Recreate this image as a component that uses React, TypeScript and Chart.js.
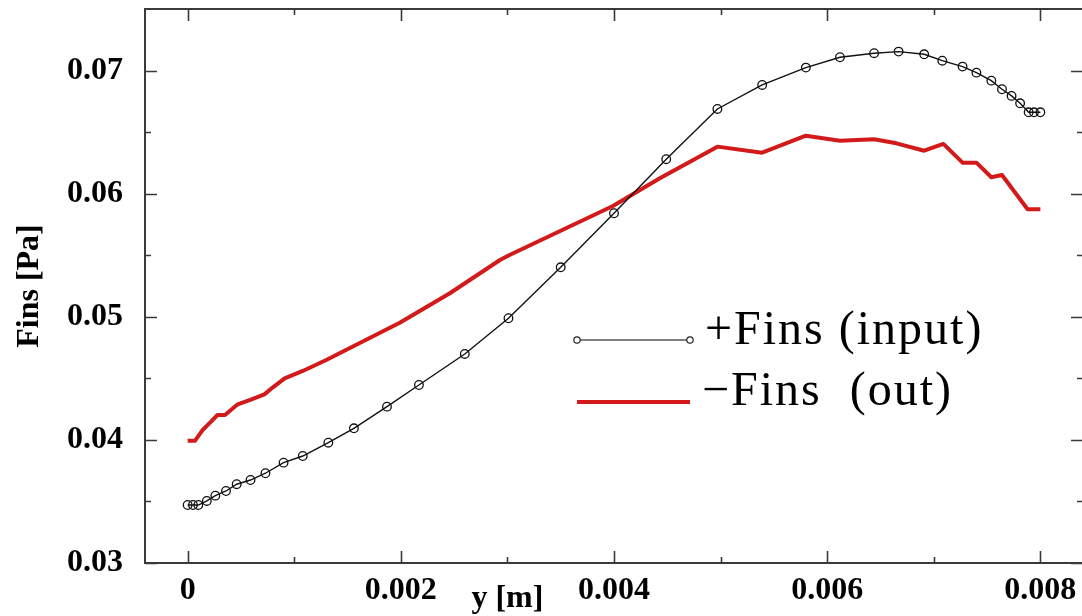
import React, { useEffect, useRef } from 'react';
import { Chart, registerables } from 'chart.js';

Chart.register(...registerables);

// ---- data ----
const inputX = [0, 0.00005, 0.0001, 0.00018, 0.00026, 0.00036, 0.00046, 0.00059, 0.00073, 0.0009, 0.00108, 0.00132, 0.00156, 0.00187, 0.00217, 0.0026, 0.00301, 0.0035, 0.004, 0.00449, 0.00497, 0.00539, 0.0058, 0.00612, 0.00644, 0.00667, 0.00691, 0.00708, 0.00727, 0.0074, 0.00754, 0.00764, 0.00773, 0.00781, 0.00789, 0.00794, 0.008];
const inputY = [0.03471, 0.03471, 0.03471, 0.03504, 0.03547, 0.03585, 0.0364, 0.03674, 0.03729, 0.03815, 0.03869, 0.03977, 0.04094, 0.0427, 0.04446, 0.04698, 0.04988, 0.05402, 0.05841, 0.0628, 0.06688, 0.06883, 0.07024, 0.07108, 0.07141, 0.07154, 0.07132, 0.0708, 0.07032, 0.06983, 0.06918, 0.06848, 0.06794, 0.06734, 0.06661, 0.06661, 0.06661];

const outX = [0, 0.00007, 0.00014, 0.00024, 0.00028, 0.00035, 0.00047, 0.0006, 0.00072, 0.0008, 0.00091, 0.00108, 0.0013, 0.00199, 0.00246, 0.00293, 0.00302, 0.00399, 0.00443, 0.00497, 0.00539, 0.0058, 0.00612, 0.00644, 0.00665, 0.00691, 0.00709, 0.00727, 0.0074, 0.00754, 0.00764, 0.00788, 0.008];
const outY = [0.03994, 0.03994, 0.0408, 0.04167, 0.04202, 0.04202, 0.04289, 0.0433, 0.0437, 0.04427, 0.045, 0.0456, 0.04649, 0.04952, 0.05191, 0.05461, 0.05502, 0.059, 0.06125, 0.06382, 0.06333, 0.06471, 0.0643, 0.06442, 0.06409, 0.06349, 0.06404, 0.06252, 0.06252, 0.06133, 0.06152, 0.05873, 0.05873];

const seriesLabels = ['+Fins (input)', '\u2212Fins  (out)'];

const xTickValues = [0, 0.002, 0.004, 0.006, 0.008];
const xTickLabels = ['0', '0.002', '0.004', '0.006', '0.008'];
const xMinorTicks = [0.001, 0.003, 0.005, 0.007];
const yTickValues = [0.03, 0.04, 0.05, 0.06, 0.07];
const yTickLabels = ['0.03', '0.04', '0.05', '0.06', '0.07'];
const yMinorTicks = [0.035, 0.045, 0.055, 0.065];

const xTitle = 'y [m]';
const xTitleAt = 0.003;
const yTitle = 'Fins [Pa]';

const SERIF = '"Liberation Serif", "Times New Roman", serif';
const RED = '#d21a1a';

const framePlugin = {
  id: 'frame',
  afterDraw(chart: any) {
    const { ctx, chartArea, scales } = chart;
    const { left, right, top, bottom } = chartArea;
    const x = scales.x;
    const y = scales.y;
    ctx.save();
    ctx.strokeStyle = '#3a3a3a';
    ctx.lineWidth = 2;
    ctx.strokeRect(left, top, right - left, bottom - top);
    ctx.lineWidth = 1.6;
    const vtick = (v: number, len: number) => {
      const px = Math.round(x.getPixelForValue(v)) + 0.5;
      ctx.beginPath();
      ctx.moveTo(px, bottom);
      ctx.lineTo(px, bottom - len);
      ctx.moveTo(px, top);
      ctx.lineTo(px, top + len);
      ctx.stroke();
    };
    const htick = (v: number, len: number) => {
      const py = Math.round(y.getPixelForValue(v)) + 0.5;
      ctx.beginPath();
      ctx.moveTo(left, py);
      ctx.lineTo(left + len, py);
      ctx.moveTo(right, py);
      ctx.lineTo(right - len, py);
      ctx.stroke();
    };
    xTickValues.forEach((v) => vtick(v, 12));
    xMinorTicks.forEach((v) => vtick(v, 6));
    yTickValues.forEach((v) => htick(v, 12));
    yMinorTicks.forEach((v) => htick(v, 6));

    // x-axis title
    ctx.fillStyle = '#000';
    ctx.font = `bold 32px ${SERIF}`;
    ctx.textAlign = 'center';
    ctx.textBaseline = 'alphabetic';
    ctx.fillText(xTitle, x.getPixelForValue(xTitleAt), 607);

    // legend
    const ds0 = chart.data.datasets[0];
    const ds1 = chart.data.datasets[1];
    const lx0 = 577;
    const lx1 = 690;
    const r1 = 340;
    const r2 = 402;
    ctx.strokeStyle = '#555';
    ctx.lineWidth = 1.6;
    ctx.beginPath();
    ctx.moveTo(lx0, r1);
    ctx.lineTo(lx1, r1);
    ctx.stroke();
    ctx.strokeStyle = '#222';
    ctx.lineWidth = 1.2;
    [lx0, lx1].forEach((cx) => {
      ctx.beginPath();
      ctx.arc(cx, r1, 3.2, 0, Math.PI * 2);
      ctx.fillStyle = '#fff';
      ctx.fill();
      ctx.stroke();
    });
    ctx.strokeStyle = ds1.borderColor;
    ctx.lineWidth = 4;
    ctx.beginPath();
    ctx.moveTo(lx0, r2);
    ctx.lineTo(lx1, r2);
    ctx.stroke();

    ctx.fillStyle = '#000';
    ctx.font = `48px ${SERIF}`;
    ctx.textAlign = 'left';
    try {
      (ctx as any).letterSpacing = '2px';
    } catch (e) {}
    ctx.fillText(ds0.label, 705, 344);
    ctx.fillText(ds1.label, 702, 405);
    ctx.restore();
  },
};

export default function App() {
  const ref = useRef<HTMLCanvasElement | null>(null);

  useEffect(() => {
    document.body.style.margin = '0';
    document.body.style.overflow = 'hidden';
    document.body.style.background = '#fff';
    const canvas = ref.current;
    if (!canvas) return;
    const chart = new Chart(canvas, {
      type: 'line',
      data: {
        datasets: [
          {
            label: seriesLabels[0],
            data: inputX.map((v, i) => ({ x: v, y: inputY[i] })),
            borderColor: '#111',
            borderWidth: 1.4,
            pointRadius: 4.3,
            pointBorderWidth: 1.3,
            pointBorderColor: '#111',
            pointBackgroundColor: 'rgba(0,0,0,0)',
            tension: 0,
          },
          {
            label: seriesLabels[1],
            data: outX.map((v, i) => ({ x: v, y: outY[i] })),
            borderColor: RED,
            borderWidth: 4,
            pointRadius: 0,
            tension: 0,
            borderJoinStyle: 'round',
          },
        ],
      },
      options: {
        responsive: false,
        animation: false,
        devicePixelRatio: 1,
        layout: { padding: { top: 9, right: 17, left: 0, bottom: 0 } },
        plugins: {
          legend: { display: false },
          tooltip: { enabled: false },
        },
        scales: {
          x: {
            type: 'linear',
            min: -0.0004,
            max: 0.0084,
            grid: { display: false, drawTicks: false },
            border: { display: false },
            afterBuildTicks: (s: any) => {
              s.ticks = xTickValues.map((v) => ({ value: v }));
            },
            afterFit: (s: any) => {
              s.height = 53;
              s.paddingLeft = 0;
              s.paddingRight = 0;
              s.paddingTop = 0;
              s.paddingBottom = 0;
            },
            ticks: {
              padding: 9,
              maxRotation: 0,
              autoSkip: false,
              color: '#000',
              font: { family: SERIF, size: 32, weight: 'bold' },
              callback: (v: any) => xTickLabels[xTickValues.indexOf(v)] ?? '',
            },
          },
          y: {
            type: 'linear',
            min: 0.03,
            max: 0.075,
            grid: { display: false, drawTicks: false },
            border: { display: false },
            afterBuildTicks: (s: any) => {
              s.ticks = yTickValues.map((v) => ({ value: v }));
            },
            afterFit: (s: any) => {
              s.width = 145;
              s.paddingLeft = 0;
              s.paddingRight = 0;
              s.paddingTop = 0;
              s.paddingBottom = 0;
            },
            title: {
              display: true,
              text: yTitle,
              color: '#000',
              font: { family: SERIF, size: 32, weight: 'bold' },
              padding: { top: 11, bottom: 0 },
            },
            ticks: {
              padding: 22,
              autoSkip: false,
              color: '#000',
              font: { family: SERIF, size: 32, weight: 'bold' },
              callback: (v: any) => yTickLabels[yTickValues.indexOf(v)] ?? '',
            },
          },
        },
      } as any,
      plugins: [framePlugin],
    });
    return () => chart.destroy();
  }, []);

  return (
    <div style={{ width: 1082, height: 616, overflow: 'hidden', background: '#fff' }}>
      <canvas ref={ref} width={1100} height={616} style={{ display: 'block' }} />
    </div>
  );
}
